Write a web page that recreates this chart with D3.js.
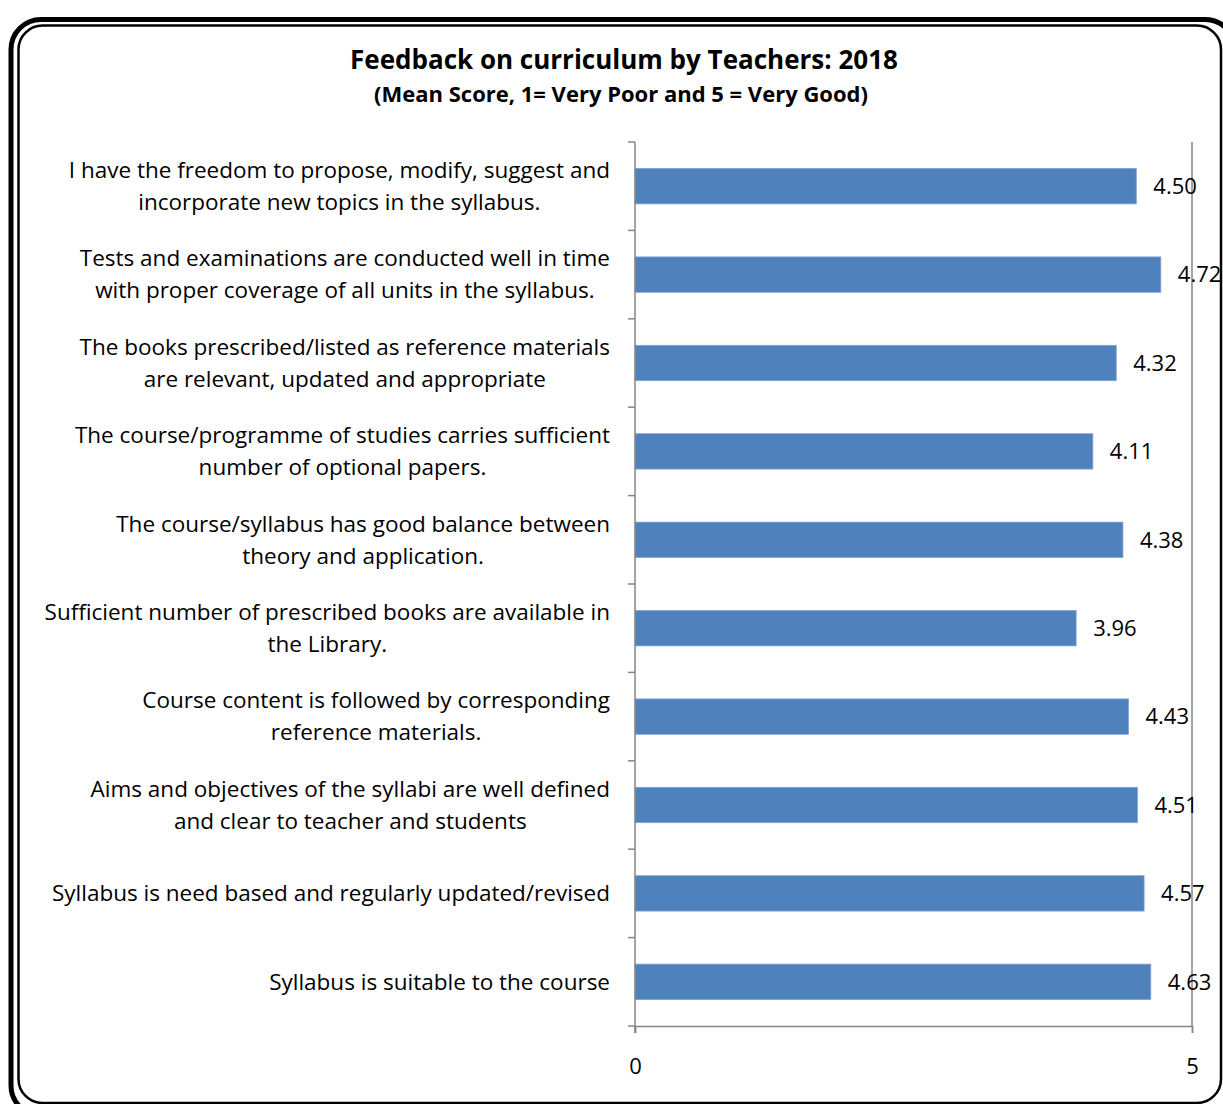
<!DOCTYPE html>
<html>
<head>
<meta charset="utf-8">
<script src="https://cdn.jsdelivr.net/npm/d3@7"></script>
<style>
    body { margin: 0; background: #fff; }
    text { font-family: "Open Sans", Lato, "Noto Sans", sans-serif; fill: #000; }
</style>
</head>
<body>
<div id="chart"></div>
<script>
// statements, top to bottom (lines split as in the picture)
const categories = [
    ["I have the freedom to propose, modify, suggest and", "incorporate new topics in the syllabus."],
    ["Tests and examinations are conducted well in time", "with proper coverage of all units in the syllabus."],
    ["The books prescribed/listed as reference materials", "are relevant, updated and appropriate"],
    ["The course/programme of studies carries sufficient", "number of optional papers."],
    ["The course/syllabus has good balance between", "theory and application."],
    ["Sufficient number of prescribed books are available in", "the Library."],
    ["Course content is followed by corresponding", "reference materials."],
    ["Aims and objectives of the syllabi are well defined", "and clear to teacher and students"],
    ["Syllabus is need based and regularly updated/revised"],
    ["Syllabus is suitable to the course"]
];
const scores = [4.50, 4.72, 4.32, 4.11, 4.38, 3.96, 4.43, 4.51, 4.57, 4.63];
const xTicks = [0, 5];

const W = 1223, H = 1104;
const margin = { top: 142, right: 31, bottom: 78, left: 635 };
const width = W - margin.left - margin.right;
const height = H - margin.top - margin.bottom;

const svg = d3.select("#chart").append("svg")
    .attr("width", W)
    .attr("height", H);

// double rounded frame
svg.append("rect")
    .attr("x", 11).attr("y", 19.5)
    .attr("width", 1224).attr("height", 1096)
    .attr("rx", 30).attr("ry", 30)
    .attr("fill", "none").attr("stroke", "#000").attr("stroke-width", 5);
svg.append("rect")
    .attr("x", 18.5).attr("y", 25.5)
    .attr("width", 1202.5).attr("height", 1077.5)
    .attr("rx", 24).attr("ry", 24)
    .attr("fill", "none").attr("stroke", "#000").attr("stroke-width", 2.5);

svg.append("text")
    .attr("x", 624).attr("y", 69)
    .attr("text-anchor", "middle")
    .style("font-size", "26px").style("font-weight", "bold")
    .text("Feedback on curriculum by Teachers: 2018");
svg.append("text")
    .attr("x", 621).attr("y", 102)
    .attr("text-anchor", "middle")
    .style("font-size", "22px").style("font-weight", "bold")
    .text("(Mean Score, 1= Very Poor and 5 = Very Good)");

const g = svg.append("g")
    .attr("transform", `translate(${margin.left},${margin.top})`);

const x = d3.scaleLinear().domain([0, 5]).range([0, width]);
const y = d3.scaleBand()
    .domain(d3.range(categories.length))
    .range([0, height])
    .paddingInner(0.6)
    .paddingOuter(0.3);

// gridline at 5
g.selectAll(".grid")
    .data(xTicks.filter(d => d > 0))
    .enter()
    .append("line")
    .attr("x1", d => x(d)).attr("x2", d => x(d))
    .attr("y1", 0).attr("y2", height)
    .attr("stroke", "#868686").attr("stroke-width", 1.5);

g.selectAll(".bar")
    .data(scores)
    .enter()
    .append("rect")
    .attr("class", "bar")
    .attr("x", x(0))
    .attr("y", (d, i) => y(i))
    .attr("width", d => x(d) - x(0))
    .attr("height", y.bandwidth())
    .attr("fill", "#4F81BD")
    .attr("stroke", "#7fa3d3")
    .attr("stroke-width", 0.8);

g.selectAll(".bar-text")
    .data(scores)
    .enter()
    .append("text")
    .attr("class", "bar-text")
    .attr("x", d => x(d) + 17)
    .attr("y", (d, i) => y(i) + y.bandwidth() / 2)
    .attr("dy", "0.35em")
    .style("font-size", "22px")
    .text(d => d.toFixed(2));

// y axis line + band ticks
const step = y.step();
g.append("line")
    .attr("x1", 0).attr("x2", 0).attr("y1", 0).attr("y2", height + 7)
    .attr("stroke", "#868686").attr("stroke-width", 1.5);
g.selectAll(".ytick")
    .data(d3.range(categories.length + 1))
    .enter()
    .append("line")
    .attr("x1", -7).attr("x2", 0)
    .attr("y1", i => i * step).attr("y2", i => i * step)
    .attr("stroke", "#868686").attr("stroke-width", 1.5);

// x axis
const xAxis = g.append("g")
    .attr("transform", `translate(0,${height})`)
    .call(d3.axisBottom(x).tickValues(xTicks).tickSize(7).tickPadding(25).tickFormat(d3.format("d")));
xAxis.select(".domain").attr("stroke", "#868686").attr("stroke-width", 1.5);
xAxis.selectAll(".tick line").attr("stroke", "#868686").attr("stroke-width", 1.5);
xAxis.selectAll(".tick text")
    .style("font-size", "22px")
    .style("font-family", "'Open Sans', Lato, 'Noto Sans', sans-serif")
    .attr("fill", "#000");

// category labels: centered block, widest line ending at x = 610
const labels = svg.append("g").attr("class", "labels");
categories.forEach((lines, i) => {
    const cy = margin.top + y(i) + y.bandwidth() / 2;
    const t = labels.append("text")
        .attr("text-anchor", "middle")
        .style("font-size", "22.5px");
    lines.forEach((ln, j) => {
        t.append("tspan")
            .attr("y", cy + (j - (lines.length - 1) / 2) * 32)
            .attr("dy", "0.35em")
            .text(ln);
    });
    const maxW = d3.max(t.selectAll("tspan").nodes(), n => n.getComputedTextLength());
    t.selectAll("tspan").attr("x", 610 - maxW / 2);
});
</script>
</body>
</html>
